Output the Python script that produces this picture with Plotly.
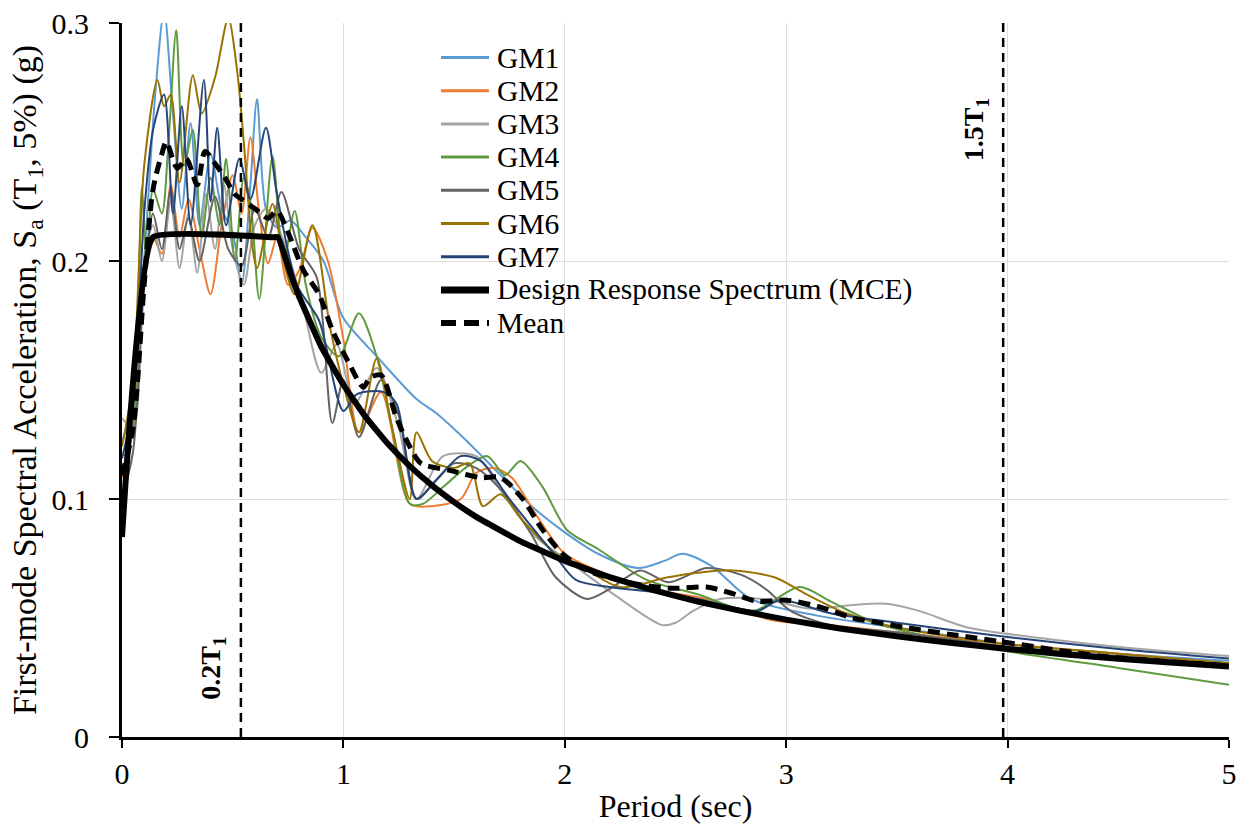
import plotly.graph_objects as go

# ---------------- data ----------------
GM1_T = [0, 0.05, 0.1, 0.15, 0.19, 0.23, 0.27, 0.31, 0.35, 0.4, 0.45, 0.5, 0.54, 0.58, 0.61, 0.65, 0.7, 0.76, 0.83, 0.91, 1.0, 1.15, 1.33, 1.42, 1.55, 1.7, 1.85, 2.0, 2.15, 2.33, 2.45, 2.53, 2.66, 2.84, 3.14, 3.5, 4.0, 4.5, 5.0]
GM1_Sa = [0.124, 0.14, 0.2, 0.27, 0.305, 0.262, 0.222, 0.258, 0.215, 0.245, 0.222, 0.212, 0.19, 0.232, 0.268, 0.222, 0.214, 0.217, 0.21, 0.2, 0.176, 0.16, 0.142, 0.136, 0.125, 0.111, 0.097, 0.086, 0.077, 0.071, 0.074, 0.077, 0.072, 0.058, 0.051, 0.046, 0.039, 0.035, 0.032]

GM2_T = [0, 0.05, 0.1, 0.14, 0.18, 0.22, 0.26, 0.3, 0.35, 0.4, 0.45, 0.5, 0.54, 0.58, 0.62, 0.66, 0.7, 0.75, 0.8, 0.86, 0.93, 1.0, 1.07, 1.17, 1.3, 1.4, 1.53, 1.6, 1.68, 1.76, 1.88, 2.0, 2.2, 2.4, 2.64, 2.94, 3.2, 3.5, 4.0, 4.5, 5.0]
GM2_Sa = [0.109, 0.13, 0.19, 0.21, 0.203, 0.232, 0.21, 0.226, 0.205, 0.186, 0.215, 0.236, 0.22, 0.252, 0.22, 0.199, 0.21, 0.19, 0.196, 0.214, 0.2, 0.167, 0.128, 0.145, 0.098, 0.097, 0.1, 0.111, 0.113, 0.109, 0.092, 0.077, 0.068, 0.062, 0.058, 0.049, 0.047, 0.044, 0.039, 0.035, 0.031]

GM3_T = [0, 0.05, 0.1, 0.14, 0.18, 0.22, 0.26, 0.3, 0.34, 0.38, 0.42, 0.46, 0.5, 0.55, 0.6, 0.65, 0.7, 0.76, 0.82, 0.9, 0.97, 1.05, 1.15, 1.25, 1.33, 1.45, 1.6, 1.71, 1.87, 2.0, 2.22, 2.44, 2.5, 2.58, 2.7, 2.9, 3.1, 3.3, 3.45, 3.6, 3.82, 4.2, 4.6, 5.0]
GM3_Sa = [0.134, 0.13, 0.2, 0.215, 0.2, 0.225, 0.197, 0.22, 0.195, 0.228, 0.205, 0.232, 0.205, 0.19, 0.215, 0.222, 0.215, 0.2, 0.18, 0.153, 0.165, 0.14, 0.155, 0.13, 0.1, 0.118, 0.118, 0.104, 0.084, 0.075, 0.06, 0.047, 0.048, 0.053, 0.058, 0.058, 0.054, 0.0555, 0.056, 0.053, 0.046, 0.041, 0.037, 0.034]

GM4_T = [0, 0.05, 0.09, 0.11, 0.14, 0.18, 0.21, 0.245, 0.28, 0.32, 0.36, 0.4, 0.44, 0.47, 0.51, 0.55, 0.58, 0.62, 0.68, 0.73, 0.78, 0.83, 0.9, 0.98, 1.07, 1.15, 1.22, 1.3, 1.36, 1.45, 1.55, 1.65, 1.73, 1.8, 1.9, 2.01, 2.15, 2.37, 2.6, 2.85, 3.06, 3.2, 3.4, 3.7, 4.0, 4.5, 5.0]
GM4_Sa = [0.11, 0.13, 0.231, 0.2, 0.23, 0.22, 0.25, 0.297, 0.24, 0.255, 0.21, 0.235, 0.215, 0.243, 0.2, 0.235, 0.225, 0.184, 0.244, 0.2, 0.221, 0.19, 0.168, 0.16, 0.178, 0.16, 0.13, 0.098, 0.098, 0.105, 0.113, 0.118, 0.11, 0.116, 0.105, 0.087, 0.079, 0.066, 0.06, 0.053, 0.063, 0.057, 0.048, 0.041, 0.036, 0.029, 0.022]

GM5_T = [0, 0.05, 0.1, 0.14, 0.18, 0.22, 0.26, 0.3, 0.35, 0.42, 0.48, 0.54, 0.6, 0.66, 0.72, 0.8, 0.88, 0.95, 1.0, 1.07, 1.17, 1.25, 1.33, 1.42, 1.5, 1.6, 1.7, 1.85, 1.96, 2.1, 2.2, 2.34, 2.47, 2.64, 2.8, 2.91, 3.02, 3.2, 3.5, 4.0, 4.5, 5.0]
GM5_Sa = [0.1, 0.12, 0.19, 0.22, 0.205, 0.23, 0.205, 0.218, 0.2, 0.227, 0.205, 0.198, 0.222, 0.21, 0.229, 0.205, 0.193, 0.132, 0.15, 0.126, 0.15, 0.135, 0.1, 0.108, 0.115, 0.113, 0.105, 0.085, 0.067, 0.058, 0.062, 0.07, 0.065, 0.071, 0.068, 0.062, 0.053, 0.047, 0.044, 0.038, 0.034, 0.031]

GM6_T = [0, 0.05, 0.1, 0.16, 0.19, 0.22, 0.26, 0.32, 0.36, 0.42, 0.48, 0.52, 0.55, 0.59, 0.61, 0.68, 0.73, 0.78, 0.86, 0.94, 1.0, 1.07, 1.15, 1.22, 1.3, 1.33, 1.4, 1.5, 1.57, 1.63, 1.71, 1.8, 1.96, 2.1, 2.25, 2.46, 2.6, 2.76, 2.95, 3.09, 3.27, 3.5, 4.0, 4.5, 5.0]
GM6_Sa = [0.122, 0.15, 0.24, 0.276, 0.265, 0.27, 0.233, 0.278, 0.262, 0.277, 0.302, 0.28, 0.25, 0.205, 0.197, 0.224, 0.2, 0.186, 0.215, 0.172, 0.148, 0.128, 0.159, 0.13, 0.1, 0.128, 0.116, 0.113, 0.115, 0.097, 0.102, 0.092, 0.077, 0.07, 0.063, 0.067, 0.069, 0.07, 0.067, 0.06, 0.052, 0.046, 0.039, 0.035, 0.031]

GM7_T = [0, 0.05, 0.1, 0.14, 0.19, 0.23, 0.27, 0.31, 0.37, 0.4, 0.43, 0.47, 0.53, 0.58, 0.65, 0.7, 0.79, 0.89, 1.0, 1.06, 1.18, 1.24, 1.33, 1.42, 1.53, 1.62, 1.75, 1.95, 2.05, 2.2, 2.4, 2.6, 2.87, 2.97, 3.2, 3.5, 4.0, 4.5, 5.0]
GM7_Sa = [0.117, 0.14, 0.22, 0.255, 0.27, 0.22, 0.265, 0.215, 0.276, 0.225, 0.256, 0.215, 0.243, 0.226, 0.256, 0.228, 0.19, 0.175, 0.137, 0.144, 0.145, 0.14, 0.1, 0.108, 0.118, 0.116, 0.1, 0.077, 0.066, 0.063, 0.061, 0.058, 0.053, 0.0575, 0.052, 0.048, 0.042, 0.037, 0.033]

MEAN_T = [0, 0.05, 0.1, 0.14, 0.18, 0.2, 0.25, 0.29, 0.34, 0.375, 0.42, 0.465, 0.51, 0.54, 0.6, 0.66, 0.7, 0.75, 0.82, 0.89, 0.95, 1.02, 1.09, 1.12, 1.17, 1.24, 1.3, 1.35, 1.48, 1.62, 1.71, 1.81, 1.9, 1.99, 2.1, 2.2, 2.34, 2.49, 2.64, 2.75, 2.87, 3.0, 3.15, 3.3, 3.42, 3.54, 3.75, 4.01, 4.42, 5.0]
MEAN_Sa = [0.11, 0.13, 0.19, 0.23, 0.245, 0.25, 0.239, 0.243, 0.232, 0.246, 0.241, 0.235, 0.228, 0.226, 0.222, 0.218, 0.221, 0.212, 0.196, 0.186, 0.171, 0.158, 0.147, 0.151, 0.152, 0.134, 0.122, 0.115, 0.112, 0.109, 0.109, 0.1, 0.087, 0.077, 0.07, 0.067, 0.064, 0.0625, 0.063, 0.0605, 0.057, 0.0575, 0.0547, 0.05, 0.048, 0.046, 0.043, 0.0395, 0.034, 0.03]

DRS_T = [0, 0.14, 0.68, 0.705, 0.76, 0.8, 0.9, 1.0, 1.1, 1.2, 1.3, 1.4, 1.5, 1.6, 1.8, 2.0, 2.2, 2.4, 2.6, 2.8, 3.0, 3.25, 3.5, 3.75, 4.0, 4.25, 4.5, 4.75, 5.0]
DRS_Sa = [0.084, 0.21, 0.21, 0.21, 0.195, 0.185, 0.164, 0.148, 0.1345, 0.1233, 0.1138, 0.1057, 0.0987, 0.0925, 0.0822, 0.074, 0.0673, 0.0617, 0.0569, 0.0529, 0.0493, 0.0455, 0.0423, 0.0395, 0.037, 0.0348, 0.0329, 0.0312, 0.0296]

MARK_T = [0.537, 3.98]
MARK_LABELS = ["<b>0.2T<sub>1</sub></b>", "<b>1.5T<sub>1</sub></b>"]

X_TICKS = [0, 1, 2, 3, 4, 5]
Y_TICKS = [0, 0.1, 0.2, 0.3]
Y_TICK_TEXT = ["0", "0.1", "0.2", "0.3"]

GM_NAMES = ["GM1", "GM2", "GM3", "GM4", "GM5", "GM6", "GM7"]
GM_COLORS = ["#5B9BD5", "#ED7D31", "#A5A5A5", "#5E9A3E", "#636363", "#997300", "#264478"]
GM_DATA = [(GM1_T, GM1_Sa), (GM2_T, GM2_Sa), (GM3_T, GM3_Sa), (GM4_T, GM4_Sa),
           (GM5_T, GM5_Sa), (GM6_T, GM6_Sa), (GM7_T, GM7_Sa)]

FONT = "Liberation Serif"

# plot-area geometry in pixels (for the hand-drawn legend)
W, H = 1243, 835
ML, MR, MT, MB = 122, 14, 23, 98
PW, PH = W - ML - MR, H - MT - MB

fig = go.Figure()

legend_items = []
for name, color, (t, sa) in zip(GM_NAMES, GM_COLORS, GM_DATA):
    fig.add_trace(go.Scatter(x=t, y=sa, name=name, mode="lines", showlegend=False,
                             line=dict(color=color, width=2, shape="spline", smoothing=0.8)))
    legend_items.append((name, dict(color=color, width=3)))

fig.add_trace(go.Scatter(x=DRS_T, y=DRS_Sa, name="Design Response Spectrum (MCE)", mode="lines",
                         showlegend=False,
                         line=dict(color="black", width=6, shape="spline", smoothing=0.3)))
legend_items.append(("Design Response Spectrum (MCE)", dict(color="black", width=7)))
fig.add_trace(go.Scatter(x=MEAN_T, y=MEAN_Sa, name="Mean", mode="lines", showlegend=False,
                         line=dict(color="black", width=5, dash="12px,7px", shape="spline", smoothing=0.8)))
legend_items.append(("Mean", dict(color="black", width=6, dash="15px,8px")))

for t in MARK_T:
    fig.add_trace(go.Scatter(x=[t, t], y=[Y_TICKS[0], Y_TICKS[-1]], mode="lines", showlegend=False,
                             line=dict(color="black", width=2.5, dash="9px,6px"), hoverinfo="skip"))

fig.add_annotation(x=MARK_T[0], y=0.029, text=MARK_LABELS[0], textangle=-90, showarrow=False,
                   xshift=-28, font=dict(family=FONT, size=28, color="black"))
fig.add_annotation(x=MARK_T[1], y=0.255, text=MARK_LABELS[1], textangle=-90, showarrow=False,
                   xshift=-28, font=dict(family=FONT, size=28, color="black"))

# legend drawn as shapes + text (to match the tight row spacing of the original)
LEG_X0, LEG_X1, LEG_TX = 441, 489, 495
LEG_Y0, LEG_DY = 57.5, 33.2
for i, (label, ln) in enumerate(legend_items):
    py = LEG_Y0 + i * LEG_DY
    yp = (H - MB - py) / PH
    fig.add_shape(type="line", xref="paper", yref="paper",
                  x0=(LEG_X0 - ML) / PW, x1=(LEG_X1 - ML) / PW, y0=yp, y1=yp, line=ln)
    fig.add_annotation(xref="paper", yref="paper", x=(LEG_TX - ML) / PW, y=yp, text=label,
                       showarrow=False, xanchor="left", yanchor="middle",
                       font=dict(family=FONT, size=29.5, color="black"))

fig.update_layout(
    width=W, height=H,
    margin=dict(l=ML, r=MR, t=MT, b=MB, autoexpand=False),
    paper_bgcolor="white", plot_bgcolor="white",
    font=dict(family=FONT, size=30, color="black"),
    showlegend=False,
)
fig.update_xaxes(range=[0, 5], tickvals=X_TICKS, showgrid=True, gridcolor="#DDDDDD", gridwidth=1,
                 showline=True, linecolor="black", linewidth=3, ticks="outside", ticklen=8,
                 tickwidth=2, tickcolor="black", zeroline=False, tickfont=dict(family=FONT, size=30),
                 automargin=False,
                 title=dict(text="Period (sec)", font=dict(family=FONT, size=32), standoff=6))
fig.update_yaxes(range=[0, 0.3], tickvals=Y_TICKS, ticktext=Y_TICK_TEXT, showgrid=True,
                 gridcolor="#DDDDDD", gridwidth=1, showline=True, linecolor="black", linewidth=3,
                 ticks="outside", ticklen=10, tickwidth=2, tickcolor="black", zeroline=False,
                 tickfont=dict(family=FONT, size=30), ticklabelstandoff=14, automargin=False,
                 title=dict(text="First-mode Spectral Acceleration, S<sub>a</sub> (T<sub>1</sub>, 5%) (g)",
                            font=dict(family=FONT, size=34), standoff=5))

fig.write_html("out.html")
